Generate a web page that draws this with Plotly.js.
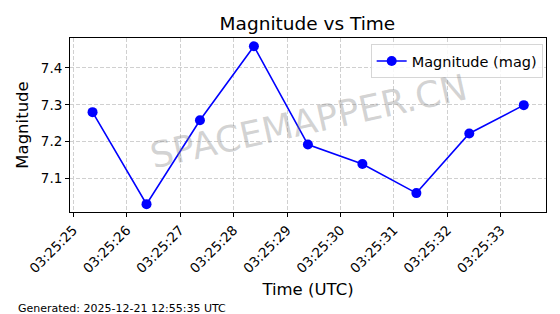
<!DOCTYPE html>
<html><head><meta charset="utf-8">
<script src="https://cdn.plot.ly/plotly-3.0.1.min.js"></script>
<style>html,body{margin:0;padding:0;background:#fff}#chart{width:560px;height:314px}</style>
</head><body><div id="chart"></div>
<script>
const times = ["2025-12-21 03:25:25.360","2025-12-21 03:25:26.370","2025-12-21 03:25:27.370","2025-12-21 03:25:28.380","2025-12-21 03:25:29.390","2025-12-21 03:25:30.410","2025-12-21 03:25:31.420","2025-12-21 03:25:32.410","2025-12-21 03:25:33.430"];
const magnitudes = [7.28, 7.03, 7.258, 7.459, 7.192, 7.139, 7.06, 7.222, 7.299];
const seriesName = "Magnitude (mag)";
const xRange = ["2025-12-21 03:25:24.938","2025-12-21 03:25:33.846"];
const yRange = [7.0087, 7.4815];
const yTicks = [7.1, 7.2, 7.3, 7.4];

const font = "DejaVu Sans, sans-serif";
const trace = {
  x: times, y: magnitudes, name: seriesName, type: "scatter", mode: "lines+markers",
  line: {color: "#0000ff", width: 1.6},
  marker: {color: "#0000ff", size: 10}
};
const layout = {
  width: 560, height: 314,
  margin: {l: 70, r: 14.3, t: 38.3, b: 101.7},
  paper_bgcolor: "#fff", plot_bgcolor: "#fff",
  font: {family: font, color: "#000", size: 13},
  title: {text: "Magnitude vs Time", font: {size: 18.5, family: font}, x: 0.549, xanchor: "center", y: 0.924, yanchor: "middle"},
  showlegend: true,
  legend: {x: 0.993, y: 0.965, xanchor: "right", yanchor: "top", bgcolor: "rgba(255,255,255,0.85)", bordercolor: "#d6d6d6", borderwidth: 1, font: {size: 14.5, family: font}, itemwidth: 30},
  xaxis: {
    type: "date", range: xRange, tickformat: "%H:%M:%S", dtick: 1000, tick0: "2025-12-21 03:25:25",
    tickangle: -45, ticks: "outside", ticklen: 4, tickcolor: "#000", showline: true, linecolor: "#000", linewidth: 1, mirror: true,
    showgrid: true, gridcolor: "#d0d0d0", griddash: "4px,2px", gridwidth: 1, zeroline: false,
    tickfont: {size: 13.5, family: font},
    title: {text: "Time (UTC)", font: {size: 16.5, family: font}, standoff: 8}
  },
  yaxis: {
    range: yRange, tickvals: yTicks, ticktext: yTicks.map(v => v.toFixed(1)),
    ticks: "outside", ticklen: 4, tickcolor: "#000", showline: true, linecolor: "#000", linewidth: 1, mirror: true,
    showgrid: true, gridcolor: "#d0d0d0", griddash: "4px,2px", gridwidth: 1, zeroline: false,
    tickfont: {size: 13.5, family: font},
    title: {text: "Magnitude", font: {size: 16.5, family: font}, standoff: 8}
  },
  annotations: [
    {text: "SPACEMAPPER.CN", xref: "paper", yref: "paper", x: 0.5, y: 0.52, xanchor: "center", yanchor: "middle",
     showarrow: false, textangle: -12.5, font: {size: 36, family: font, color: "rgba(128,128,128,0.35)"}},
    {text: "Generated: 2025-12-21 12:55:35 UTC", xref: "paper", yref: "paper", x: -0.1125, y: -0.555, xanchor: "left", yanchor: "middle",
     showarrow: false, font: {size: 11, family: font, color: "#000"}}
  ]
};
Plotly.newPlot("chart", [trace], layout, {displayModeBar: false, staticPlot: true});
</script></body></html>
